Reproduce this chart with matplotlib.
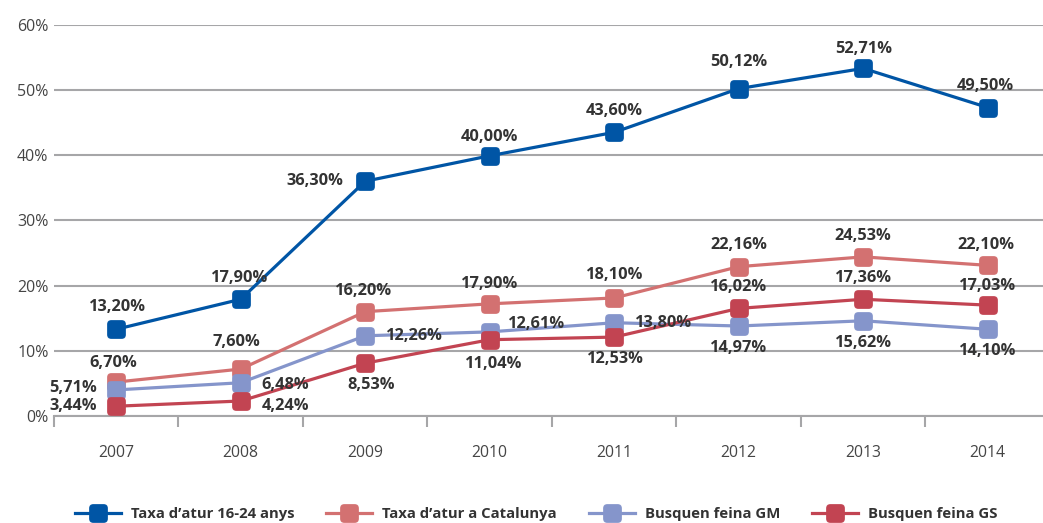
import matplotlib
matplotlib.use('Agg')
from matplotlib import pyplot as plt
from matplotlib.path import Path
from matplotlib.lines import Line2D

# Data
# --------------------------------------------------------------------------
years = ['2007', '2008', '2009', '2010', '2011', '2012', '2013', '2014']
series_names = ["Taxa d\u2019atur 16-24 anys", "Taxa d\u2019atur a Catalunya",
                'Busquen feina GM', 'Busquen feina GS']
# plotted heights (%)
atur_jove = [13.3, 17.9, 36.0, 39.9, 43.5, 50.2, 53.3, 47.3]
atur_cat = [5.2, 7.2, 16.0, 17.2, 18.1, 22.9, 24.4, 23.1]
feina_gm = [4.0, 5.1, 12.3, 12.9, 14.3, 13.8, 14.6, 13.3]
feina_gs = [1.5, 2.3, 8.1, 11.7, 12.1, 16.5, 17.9, 17.0]
# printed labels
lab_jove = ['13,20%', '17,90%', '36,30%', '40,00%', '43,60%', '50,12%', '52,71%', '49,50%']
lab_cat = ['6,70%', '7,60%', '16,20%', '17,90%', '18,10%', '22,16%', '24,53%', '22,10%']
lab_gm = ['5,71%', '6,48%', '12,26%', '12,61%', '13,80%', '14,97%', '15,62%', '14,10%']
lab_gs = ['3,44%', '4,24%', '8,53%', '11,04%', '12,53%', '16,02%', '17,36%', '17,03%']
y_ticks = [0, 10, 20, 30, 40, 50, 60]
# --------------------------------------------------------------------------

# Style
# --------------------------------------------------------------------------
colors = ['#0055a5', '#d37171', '#8595cb', '#c24452']
# label offsets in pixels (dx, dy) from each point
off_jove = [(1, 22), (-1, 21), (-50, 0), (0, 19), (0, 21), (0, 27), (0, 19), (-2, 22)]
off_cat = [(-3, 19), (-4, 27), (-2, 21), (0, 20), (0, 23), (0, 22), (0, 21), (-2, 20)]
off_gm = [(-43, 2), (44, -2), (49, 0), (47, 8), (49, 0), (0, -22), (0, -22), (0, -22)]
off_gs = [(-43, 0), (45, -5), (6, -22), (4, -24), (1, -22), (0, 21), (0, 21), (0, 19)]
text_col = '#333333'
tick_col = '#454545'
grid_col = '#a6a6a8'

# rounded square marker
r = 0.45
verts = [(-1 + r, -1), (1 - r, -1), (1, -1), (1, -1 + r), (1, 1 - r), (1, 1), (1 - r, 1),
         (-1 + r, 1), (-1, 1), (-1, 1 - r), (-1, -1 + r), (-1, -1), (-1 + r, -1), (-1 + r, -1)]
codes = [Path.MOVETO, Path.LINETO, Path.CURVE3, Path.CURVE3, Path.LINETO, Path.CURVE3, Path.CURVE3,
         Path.LINETO, Path.CURVE3, Path.CURVE3, Path.LINETO, Path.CURVE3, Path.CURVE3, Path.CLOSEPOLY]
rsq = Path(verts, codes)

plt.rcParams['font.family'] = ['Open Sans', 'DejaVu Sans']
# --------------------------------------------------------------------------

fig = plt.figure(figsize=(10.43, 5.23), dpi=100)
ax = fig.add_axes([54 / 1043, 107 / 523, 996 / 1043, (416 - 24.7) / 523])

x = list(range(len(years)))
all_vals = [atur_jove, atur_cat, feina_gm, feina_gs]
all_labs = [lab_jove, lab_cat, lab_gm, lab_gs]
all_offs = [off_jove, off_cat, off_gm, off_gs]

for vals, col, name in zip(all_vals, colors, series_names):
    ax.plot(x, vals, color=col, lw=2.3, marker=rsq, markersize=13.5,
            markeredgewidth=0, label=name, clip_on=False, zorder=3)

for vals, labs, offs in zip(all_vals, all_labs, all_offs):
    for xi, v, lab, (dx, dy) in zip(x, vals, labs, offs):
        ax.annotate(lab, (xi, v), xytext=(dx, dy), textcoords='offset pixels',
                    ha='center', va='center', fontsize=11.8, fontweight='bold',
                    color=text_col, zorder=5)

ax.set_xlim(-0.5, 7.5)
ax.set_ylim(0, 60)
ax.set_yticks(y_ticks)
ax.set_yticklabels(['%d%%' % t for t in y_ticks])
ax.set_xticks(x)
ax.set_xticklabels(years)
ax.set_xticks([i - 0.5 for i in range(8)], minor=True)
ax.tick_params(axis='y', length=0, pad=4, labelsize=11.5, labelcolor=tick_col)
ax.tick_params(axis='x', which='major', length=0, pad=21, labelsize=11.3, labelcolor=tick_col)
ax.tick_params(axis='x', which='minor', length=8, width=1.5, color=grid_col)
ax.grid(axis='y', color=grid_col, lw=1.5)
ax.set_axisbelow(True)
for s in ['top', 'right', 'left']:
    ax.spines[s].set_visible(False)
ax.spines['bottom'].set_color(grid_col)
ax.spines['bottom'].set_linewidth(1.5)

handles = [Line2D([], [], color=c, lw=2.3, marker=rsq, markersize=13.5, markeredgewidth=0)
           for c in colors]
fig.legend(handles, series_names, loc='center', bbox_to_anchor=(0.514, 0.017), ncol=4,
           frameon=False, handlelength=3.1, columnspacing=2.15, handletextpad=0.67,
           prop={'size': 10.7, 'weight': 'bold'}, labelcolor=text_col)

fig.savefig('out.png', dpi=100)
